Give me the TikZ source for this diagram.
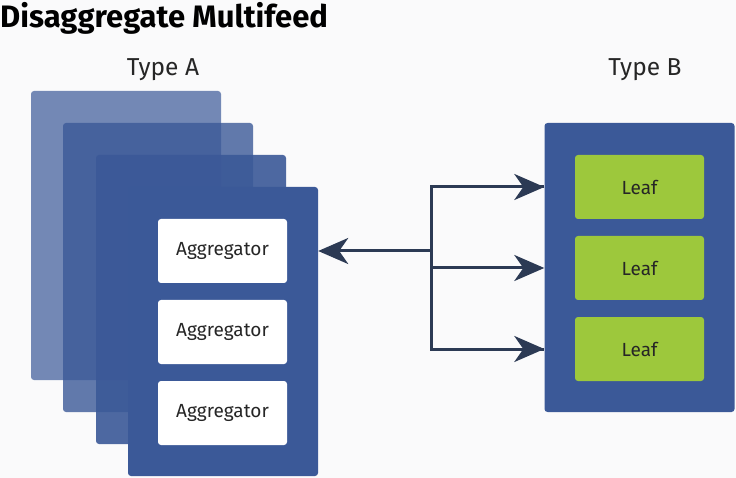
\documentclass[tikz,border=0pt]{standalone}
\usepackage{fontspec}
\setmainfont{Fira Sans}
\usetikzlibrary{arrows.meta}
\definecolor{bg}{RGB}{250,250,251}
\definecolor{fbblue}{RGB}{59,89,152}
\definecolor{leafgreen}{RGB}{157,200,60}
\definecolor{arrowc}{RGB}{44,58,84}
\begin{document}
\begin{tikzpicture}[x=1pt,y=-1pt,
  panel/.style={fill=fbblue, draw=none, rounded corners=3pt, inner sep=0pt,
    minimum width=190pt, minimum height=289pt},
  aggbox/.style={fill=white, rounded corners=3pt, inner sep=0pt,
    minimum width=129pt, minimum height=64pt, font=\fontsize{19}{22}\selectfont, text=black!85},
  leafbox/.style={fill=leafgreen, rounded corners=3pt, inner sep=0pt,
    minimum width=129pt, minimum height=64pt, font=\fontsize{19}{22}\selectfont, text=black!85},
  conn/.style={draw=arrowc, line width=3pt},
  tip/.style={-{Stealth[length=30pt,width=26pt,inset=9pt]}},
  heading/.style={font=\fontsize{24.5}{28}\selectfont, text=black!85}
]
\fill[bg] (0,0) rectangle (736,478);
\useasboundingbox (0,0) rectangle (736,478);

\node[anchor=north west, inner sep=0pt, font=\fontsize{31}{34}\bfseries\selectfont] (title) at (0,2) {Disaggregate Multifeed};

\node[heading] (ta) at (163,70) {Type A};
\node[heading] (tb) at (645,70) {Type B};

\node[panel, fill opacity=0.7] (p1) at (126,235.5) {};
\node[panel, fill opacity=0.8] (p2) at (158,267.5) {};
\node[panel, fill opacity=0.9] (p3) at (191,299.5) {};
\node[panel] (p4) at (223,331.5) {};

\node[aggbox] (a1) at (222.5,251) {Aggregator};
\node[aggbox] (a2) at (222.5,332) {Aggregator};
\node[aggbox] (a3) at (222.5,413) {Aggregator};

\node[panel] (pb) at (639.5,267.5) {};
\node[leafbox] (l1) at (639.5,187) {Leaf};
\node[leafbox] (l2) at (639.5,268) {Leaf};
\node[leafbox] (l3) at (639.5,349) {Leaf};

\coordinate (j) at (431,251);
\coordinate (jt) at (431,187);
\coordinate (jb) at (431,349);

\draw[conn, line join=miter] (pb.west |- l1) -- (jt) -- (jb) -- (pb.west |- l3);
\draw[conn, tip] (jt) -- (pb.west |- l1);
\draw[conn, tip] (jb) -- (pb.west |- l3);
\draw[conn, tip] (j |- l2) -- (pb.west |- l2);
\draw[conn, tip] (j) -- (p4.east |- a1);
\end{tikzpicture}
\end{document}
